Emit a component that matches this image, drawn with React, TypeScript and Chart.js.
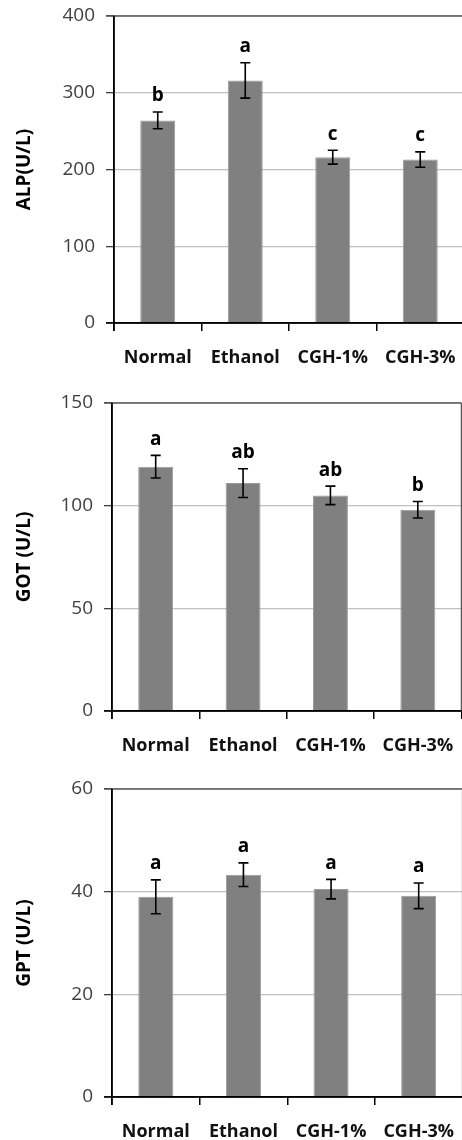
import React, { useEffect, useRef } from "react";
import { Chart, registerables } from "chart.js";

Chart.register(...registerables);

const categories = ["Normal", "Ethanol", "CGH-1%", "CGH-3%"];

const alpValues = [264, 316, 216, 213];
const alpErrors = [11, 23, 9, 10];
const alpLetters = ["b", "a", "c", "c"];

const gotValues = [119, 111, 105, 98];
const gotErrors = [5.5, 7, 4.5, 4];
const gotLetters = ["a", "ab", "ab", "b"];

const gptValues = [39, 43.3, 40.5, 39.2];
const gptErrors = [3.3, 2.3, 1.9, 2.5];
const gptLetters = ["a", "a", "a", "a"];

const alpAxis = { max: 400, step: 100 };
const gotAxis = { max: 150, step: 50 };
const gptAxis = { max: 60, step: 20 };

const FONT = "'Open Sans', 'DejaVu Sans', sans-serif";
const CANVAS_W = 468;
const CANVAS_H = 380;

type Panel = {
  title: string;
  values: number[];
  errors: number[];
  letters: string[];
  axis: { max: number; step: number };
  top: number;
  axisLeft: number;
  plotRight: number;
  plotTop: number;
  plotBottom: number;
  rightFrame: string | null;
};

const panels: Panel[] = [
  { title: "ALP(U/L)", values: alpValues, errors: alpErrors, letters: alpLetters, axis: alpAxis,
    top: 0, axisLeft: 114, plotRight: 464, plotTop: 16, plotBottom: 323, rightFrame: null },
  { title: "GOT (U/L)", values: gotValues, errors: gotErrors, letters: gotLetters, axis: gotAxis,
    top: 380, axisLeft: 112, plotRight: 461.5, plotTop: 23, plotBottom: 331, rightFrame: "#595959" },
  { title: "GPT (U/L)", values: gptValues, errors: gptErrors, letters: gptLetters, axis: gptAxis,
    top: 760, axisLeft: 112, plotRight: 462.5, plotTop: 29, plotBottom: 337, rightFrame: "#a6a6a6" },
];

const annotPlugin = {
  id: "annot",
  afterDatasetsDraw(chart: any, _args: any, opts: any) {
    const { ctx, chartArea } = chart;
    const y = chart.scales.y;
    const meta = chart.getDatasetMeta(0);
    ctx.save();
    // frame: top
    ctx.strokeStyle = "#595959";
    ctx.lineWidth = 1.5;
    ctx.beginPath();
    ctx.moveTo(chartArea.left - 8, chartArea.top);
    ctx.lineTo(chartArea.right, chartArea.top);
    ctx.stroke();
    if (opts.rightFrame) {
      ctx.strokeStyle = opts.rightFrame;
      ctx.beginPath();
      ctx.moveTo(chartArea.right, chartArea.top);
      ctx.lineTo(chartArea.right, chartArea.bottom);
      ctx.stroke();
    }
    // axes
    ctx.strokeStyle = "#000";
    ctx.beginPath();
    ctx.moveTo(chartArea.left, chartArea.top);
    ctx.lineTo(chartArea.left, chartArea.bottom + 8);
    ctx.moveTo(chartArea.left - 8, chartArea.bottom);
    ctx.lineTo(chartArea.right, chartArea.bottom);
    ctx.stroke();
    // error bars + letters
    ctx.lineWidth = 1.6;
    ctx.fillStyle = "#000";
    ctx.font = `bold 19px ${FONT}`;
    ctx.textAlign = "center";
    ctx.textBaseline = "alphabetic";
    meta.data.forEach((bar: any, i: number) => {
      const v = opts.values[i];
      const e = opts.errors[i];
      const x = bar.x;
      const yt = y.getPixelForValue(v + e);
      const yb = y.getPixelForValue(v - e);
      ctx.beginPath();
      ctx.moveTo(x, yt);
      ctx.lineTo(x, yb);
      ctx.moveTo(x - 5, yt);
      ctx.lineTo(x + 5, yt);
      ctx.moveTo(x - 5, yb);
      ctx.lineTo(x + 5, yb);
      ctx.stroke();
      ctx.fillText(opts.letters[i], x, yt - 10.5);
    });
    ctx.restore();
  },
};

function zeroPad(s: any) {
  s.paddingLeft = 0;
  s.paddingRight = 0;
  s.paddingTop = 0;
  s.paddingBottom = 0;
}

function PanelChart({ p }: { p: Panel }) {
  const ref = useRef<HTMLCanvasElement | null>(null);
  useEffect(() => {
    if (!ref.current) return;
    const chart = new Chart(ref.current, {
      type: "bar",
      data: {
        labels: categories,
        datasets: [
          {
            data: p.values,
            backgroundColor: "#808080",
            borderColor: "#9a9a9a",
            borderWidth: 1,
            barPercentage: 0.4,
            categoryPercentage: 1,
          },
        ],
      },
      options: {
        animation: false,
        responsive: false,
        devicePixelRatio: 1,
        layout: { padding: { left: 0, top: 0, bottom: 0, right: CANVAS_W - p.plotRight } },
        plugins: {
          legend: { display: false },
          tooltip: { enabled: false },
          annot: { values: p.values, errors: p.errors, letters: p.letters, rightFrame: p.rightFrame },
        } as any,
        scales: {
          x: {
            type: "category",
            position: "bottom",
            grid: {
              display: true,
              drawOnChartArea: false,
              offset: true,
              tickLength: 8,
              tickColor: "#000",
              lineWidth: 1.5,
            },
            border: { display: true, color: "#000", width: 1.5 },
            ticks: {
              color: "#111",
              padding: 16,
              font: { family: FONT, size: 18, weight: "bold" },
              maxRotation: 0,
              autoSkip: false,
            },
            afterFit: (s: any) => {
              s.height = CANVAS_H - p.plotBottom;
              zeroPad(s);
            },
          },
          xTop: {
            type: "category",
            position: "top",
            display: true,
            grid: { display: false, drawTicks: false },
            border: { display: false },
            ticks: { display: false },
            afterFit: (s: any) => {
              s.height = p.plotTop;
              zeroPad(s);
            },
          },
          y: {
            min: 0,
            max: p.axis.max,
            ticks: {
              stepSize: p.axis.step,
              color: "#404040",
              padding: 11,
              font: { family: FONT, size: 19 },
            },
            grid: {
              color: "#c0c0c0",
              lineWidth: 1.3,
              tickLength: 8,
              tickColor: "#404040",
            },
            border: { display: true, color: "#000", width: 1.5 },
            title: {
              display: true,
              text: p.title,
              color: "#000",
              font: { family: FONT, size: 19, weight: "bold" },
              padding: { top: 13, bottom: 0 },
            },
            afterFit: (s: any) => {
              s.width = p.axisLeft;
              zeroPad(s);
            },
          },
        } as any,
      },
      plugins: [annotPlugin],
    });
    return () => chart.destroy();
  }, [p]);
  return (
    <canvas
      ref={ref}
      width={CANVAS_W}
      height={CANVAS_H}
      style={{ position: "absolute", left: 0, top: 0, width: CANVAS_W, height: CANVAS_H }}
    />
  );
}

export default function App() {
  return (
    <div
      style={{
        position: "absolute",
        left: 0,
        top: 0,
        width: 462,
        height: 1140,
        overflow: "hidden",
        background: "#fff",
      }}
    >
      {panels.map((p, i) => (
        <div
          key={i}
          style={{ position: "absolute", left: 0, top: p.top, width: 462, height: CANVAS_H, overflow: "hidden" }}
        >
          <PanelChart p={p} />
        </div>
      ))}
    </div>
  );
}
